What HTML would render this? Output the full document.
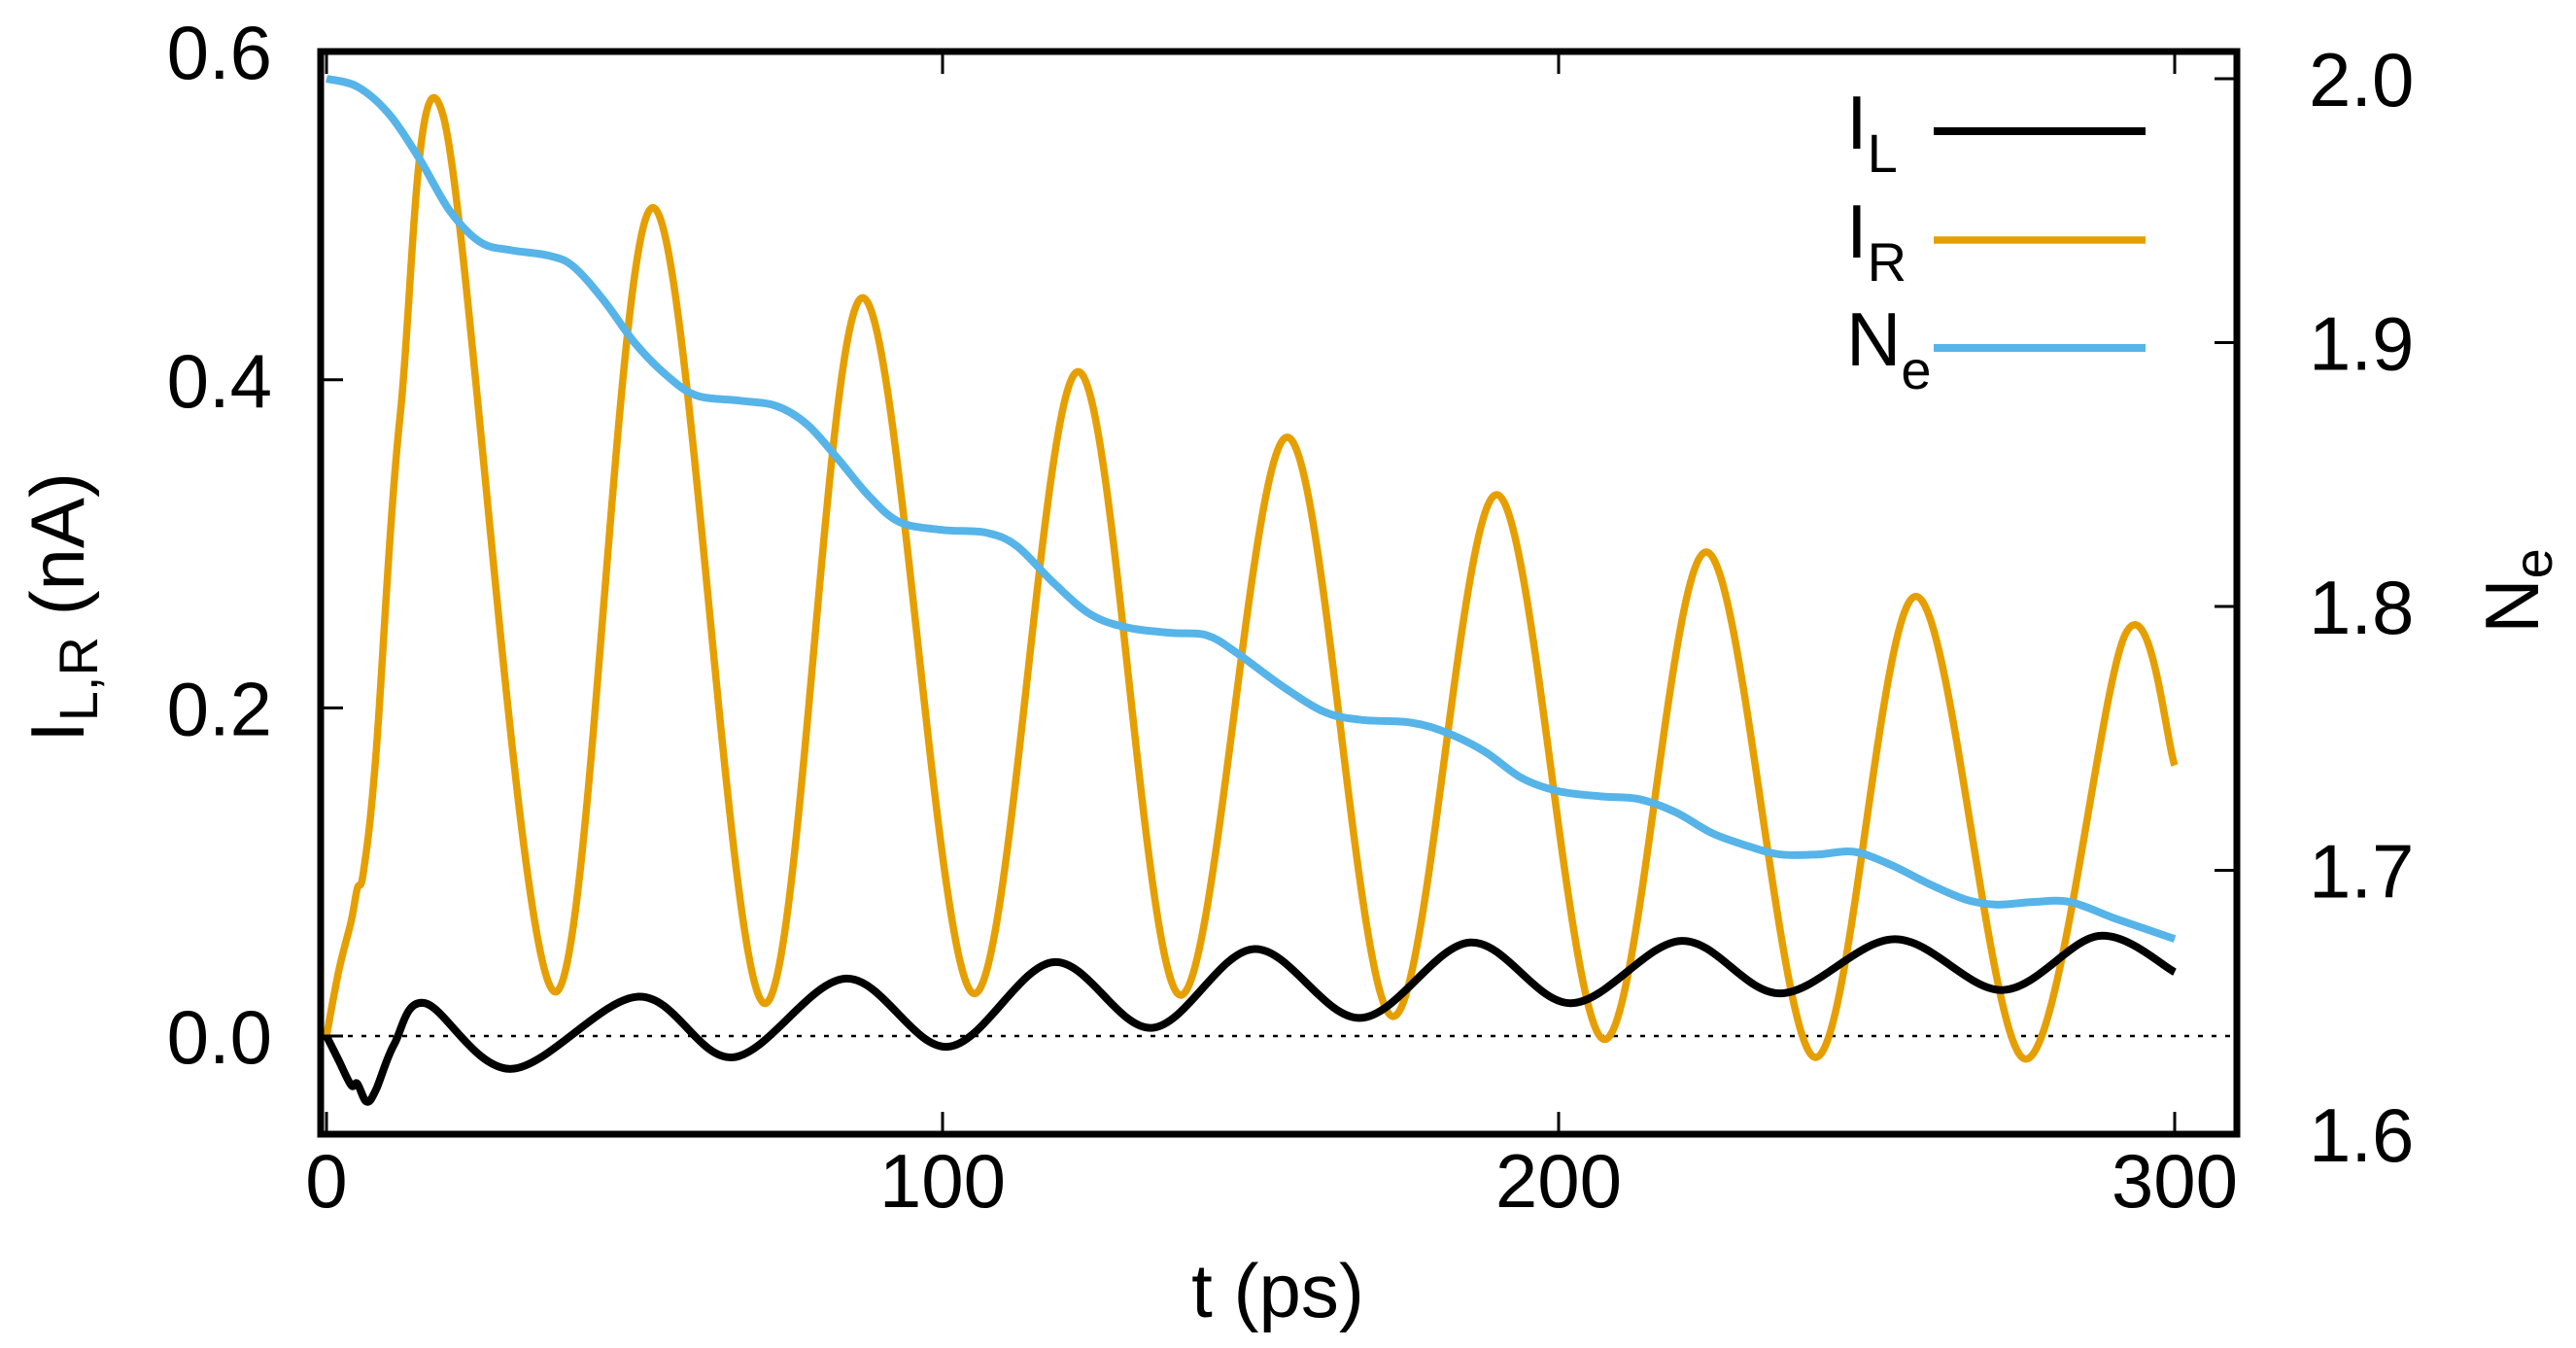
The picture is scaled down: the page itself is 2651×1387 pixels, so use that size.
<!DOCTYPE html>
<html><head><meta charset="utf-8"><style>
html,body{margin:0;padding:0;background:#fff;}
svg{display:block;}
text{font-family:"Liberation Sans",sans-serif;fill:#000;}
</style></head><body>
<svg id="chart" width="2651" height="1387" viewBox="0 0 2651 1387" xmlns="http://www.w3.org/2000/svg">
<g id="marks"></g>
<g id="axes"></g>
</svg>
<script>
const tIR=[0,2,4,5,6,8,12,19,37,53,71,87,105,122,138.5,156,173,190,207.3,224,241.6,258,275.7,292,300];
const vIR=[0,0.04,0.07,0.09,0.1,0.17,0.38,0.56,0.027,0.505,0.02,0.45,0.026,0.405,0.025,0.365,0.012,0.33,-0.002,0.295,-0.013,0.268,-0.014,0.245,0.165];
const tIL=[0,2,4,5,6.5,8,11,16,30,50.6,66,84.3,100.9,118,134,150.6,167.8,185.6,202,219.9,236,254.5,272,287.7,300];
const vIL=[0,-0.015,-0.03,-0.029,-0.04,-0.033,-0.005,0.02,-0.02,0.024,-0.013,0.035,-0.0065,0.045,0.005,0.053,0.011,0.057,0.02,0.058,0.026,0.059,0.028,0.061,0.039];
const tNe=[0,5,10,15,20,25,30,36,40,45,50,55,60,67,73,78,83,88,93,100,107,112,118,124,130,137,143,148,155,162,168,176,182,188,194,200,207,213,219,225,231,236,242,248,254,260,266,271,277,283,290,295,300];
const vNe=[2.0,1.997,1.987,1.97,1.95,1.938,1.935,1.933,1.929,1.916,1.9,1.888,1.88,1.878,1.876,1.869,1.856,1.842,1.832,1.829,1.828,1.823,1.809,1.797,1.792,1.79,1.789,1.782,1.77,1.76,1.757,1.756,1.752,1.745,1.735,1.73,1.728,1.727,1.722,1.714,1.709,1.706,1.706,1.707,1.702,1.695,1.689,1.687,1.688,1.688,1.682,1.678,1.674];
const xTicks=[0,100,200,300];
const yTicks=[0.0,0.2,0.4,0.6];
const y2Ticks=[1.6,1.7,1.8,1.9,2.0];
const xTickLabels=["0","100","200","300"];
const yTickLabels=["0.0","0.2","0.4","0.6"];
const y2TickLabels=["1.6","1.7","1.8","1.9","2.0"];

const L=330,R=2302,T=53,B=1167;
const X=t=>336+t*6.34;
const Y=v=>1066-v*1688;
const Y2=v=>81+(2.0-v)*2715;
const NS="http://www.w3.org/2000/svg";
function mk(tag,attrs,parent){const e=document.createElementNS(NS,tag);for(const k in attrs)e.setAttribute(k,attrs[k]);parent.appendChild(e);return e;}
function pathFrom(xs,ys){
  const p=xs.map((x,i)=>[x,ys[i]]);
  let d="M"+p[0][0].toFixed(1)+","+p[0][1].toFixed(1);
  for(let i=0;i<p.length-1;i++){
    const p0=p[Math.max(0,i-1)],p1=p[i],p2=p[i+1],p3=p[Math.min(p.length-1,i+2)];
    const c1=[p1[0]+(p2[0]-p0[0])/6,p1[1]+(p2[1]-p0[1])/6];
    const c2=[p2[0]-(p3[0]-p1[0])/6,p2[1]-(p3[1]-p1[1])/6];
    d+="C"+c1[0].toFixed(1)+","+c1[1].toFixed(1)+" "+c2[0].toFixed(1)+","+c2[1].toFixed(1)+" "+p2[0].toFixed(1)+","+p2[1].toFixed(1);
  }
  return d;
}
const marks=document.getElementById('marks');
const axes=document.getElementById('axes');
const zl=mk('line',{x1:L,x2:R,y1:Y(0),y2:Y(0),stroke:'#000','stroke-width':2.5,'stroke-dasharray':'5,9'},marks);


const pR=mk('path',{d:pathFrom(tIR.map(X),vIR.map(Y)),fill:'none',stroke:'#e69f00','stroke-width':7.5,'stroke-linejoin':'round'},marks);


const pL=mk('path',{d:pathFrom(tIL.map(X),vIL.map(Y)),fill:'none',stroke:'#000','stroke-width':8,'stroke-linejoin':'round'},marks);


const pN=mk('path',{d:pathFrom(tNe.map(X),vNe.map(Y2)),fill:'none',stroke:'#56b4e9','stroke-width':8,'stroke-linejoin':'round'},marks);



const fr=mk('rect',{x:L,y:T,width:R-L,height:B-T,fill:'none',stroke:'#000','stroke-width':7},axes);


xTicks.forEach((t,i)=>{
  const a=mk('line',{x1:X(t),x2:X(t),y1:B,y2:B-23,stroke:'#000','stroke-width':3},axes);
  
  
  const b=mk('line',{x1:X(t),x2:X(t),y1:T,y2:T+23,stroke:'#000','stroke-width':3},axes);
  
  
  const tx=mk('text',{x:X(t),y:1242,'font-size':78,'text-anchor':'middle'},axes);
  tx.textContent=xTickLabels[i];
  
  
});
yTicks.forEach((v,i)=>{
  const a=mk('line',{x1:L,x2:L+23,y1:Y(v),y2:Y(v),stroke:'#000','stroke-width':3},axes);
  
  
  const tx=mk('text',{x:280,y:Y(v)+28,'font-size':78,'text-anchor':'end'},axes);
  tx.textContent=yTickLabels[i];
  
  
});
y2Ticks.forEach((v,i)=>{
  const a=mk('line',{x1:R,x2:R-23,y1:Y2(v),y2:Y2(v),stroke:'#000','stroke-width':3},axes);
  
  
  const tx=mk('text',{x:2376,y:Y2(v)+28,'font-size':78,'text-anchor':'start'},axes);
  tx.textContent=y2TickLabels[i];
  
  
});
</script>
<svg style="position:absolute;left:0;top:0" width="2651" height="1387">
<text x="1315" y="1355" font-size="78" text-anchor="middle" font-family="Liberation Sans, sans-serif">t (ps)</text>
<text transform="translate(86,625) rotate(-90)" font-size="78" text-anchor="middle" font-family="Liberation Sans, sans-serif">I<tspan font-size="56" dy="14">L,R</tspan><tspan dy="-14"> (nA)</tspan></text>
<text transform="translate(2612,608) rotate(-90)" font-size="78" text-anchor="middle" font-family="Liberation Sans, sans-serif">N<tspan font-size="56" dy="14">e</tspan></text>
<g font-family="Liberation Sans, sans-serif">
<text x="1900" y="153" font-size="78">I<tspan font-size="56" dy="24">L</tspan></text>
<line x1="1990" x2="2208" y1="135" y2="135" stroke="#000" stroke-width="8"/>
<text x="1900" y="265" font-size="78">I<tspan font-size="56" dy="24">R</tspan></text>
<line x1="1990" x2="2208" y1="247" y2="247" stroke="#e69f00" stroke-width="7.5"/>
<text x="1900" y="376" font-size="78">N<tspan font-size="56" dy="24">e</tspan></text>
<line x1="1990" x2="2208" y1="358" y2="358" stroke="#56b4e9" stroke-width="8"/>
</g>
</svg>
</body></html>
